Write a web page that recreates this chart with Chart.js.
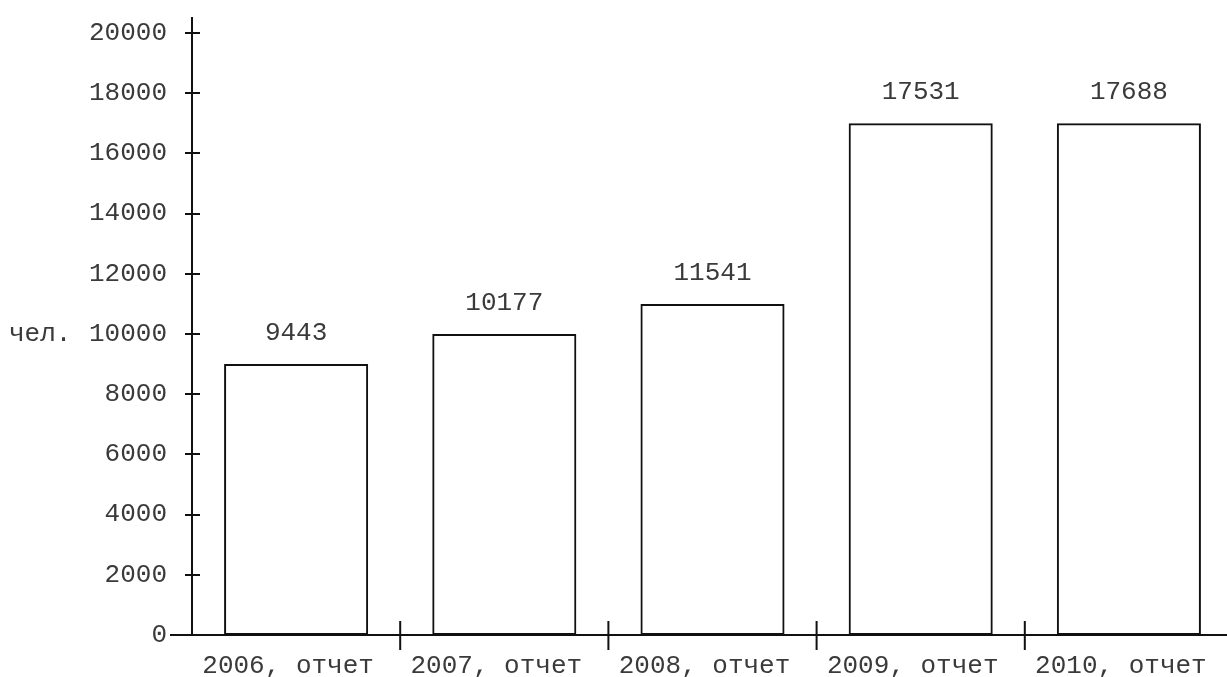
<!DOCTYPE html>
<html>
<head>
<meta charset="utf-8">
<script src="https://cdn.jsdelivr.net/npm/chart.js@4/dist/chart.umd.min.js"></script>
<style>
  html, body { margin: 0; padding: 0; background: #fff; overflow: hidden; }
  #wrap { width: 1240px; height: 677px; }
</style>
</head>
<body>
<div id="wrap"><canvas id="chart"></canvas></div>
<script>
const categories = ['2006, отчет', '2007, отчет', '2008, отчет', '2009, отчет', '2010, отчет'];
// bar heights as drawn in the picture (rounded to thousands)
const barValues = [9000, 10000, 11000, 17000, 17000];
// numbers printed above the bars
const labelValues = [9443, 10177, 11541, 17531, 17688];
const yTicks = [0, 2000, 4000, 6000, 8000, 10000, 12000, 14000, 16000, 18000, 20000];
const unitLabel = 'чел.';

const FONT = '"Liberation Mono", "Courier New", monospace';
const INK = '#111';
const TEXT = '#3a3a3a';

// axis lines, crossed ticks, value labels and unit
const decor = {
  id: 'decor',
  afterDatasetsDraw(chart) {
    const ctx = chart.ctx;
    const x = chart.scales.x, y = chart.scales.y;
    const area = chart.chartArea;
    ctx.save();
    ctx.strokeStyle = INK;
    ctx.lineWidth = 2;
    ctx.beginPath();
    // y axis
    ctx.moveTo(area.left, area.top - 16);
    ctx.lineTo(area.left, area.bottom);
    // x axis
    ctx.moveTo(area.left - 22, area.bottom);
    ctx.lineTo(chart.width, area.bottom);
    // y ticks
    y.ticks.forEach((t, i) => {
      const py = Math.round(y.getPixelForTick(i));
      ctx.moveTo(area.left - 7, py);
      ctx.lineTo(area.left + 8, py);
    });
    // x ticks between categories
    for (let i = 1; i < categories.length; i++) {
      const px = (x.getPixelForTick(i - 1) + x.getPixelForTick(i)) / 2;
      ctx.moveTo(px, area.bottom - 14);
      ctx.lineTo(px, area.bottom + 15);
    }
    ctx.stroke();

    ctx.fillStyle = TEXT;
    ctx.font = '26px ' + FONT;
    ctx.textAlign = 'center';
    ctx.textBaseline = 'middle';
    const meta = chart.getDatasetMeta(0);
    meta.data.forEach((bar, i) => {
      ctx.fillText(String(labelValues[i]), bar.x, bar.y - 31);
    });
    ctx.textAlign = 'left';
    ctx.fillText(unitLabel, 9, y.getPixelForValue(10000));
    ctx.restore();
  }
};

new Chart(document.getElementById('chart'), {
  type: 'bar',
  data: {
    labels: categories,
    datasets: [{
      data: barValues,
      backgroundColor: 'rgba(255,255,255,0)',
      borderColor: INK,
      borderWidth: 2,
      borderSkipped: false,
      categoryPercentage: 1,
      barPercentage: 0.692
    }]
  },
  options: {
    responsive: true,
    maintainAspectRatio: false,
    animation: false,
    layout: { padding: { top: 33, right: 7, left: 0, bottom: 0 } },
    plugins: { legend: { display: false }, tooltip: { enabled: false } },
    scales: {
      x: {
        grid: { display: false, drawTicks: false },
        border: { display: false },
        ticks: {
          color: TEXT,
          font: { family: FONT, size: 26 },
          padding: 16,
          labelOffset: -8,
          maxRotation: 0,
          autoSkip: false
        },
        afterFit(scale) { scale.height = 42; }
      },
      y: {
        min: 0,
        max: 20000,
        afterBuildTicks(scale) { scale.ticks = yTicks.map(v => ({ value: v })); },
        grid: { display: false, drawTicks: false },
        border: { display: false },
        ticks: {
          color: TEXT,
          font: { family: FONT, size: 26 },
          padding: 25,
          callback: v => String(v)
        },
        afterFit(scale) {
          scale.width = 192;
          scale.paddingTop = 0;
          scale.paddingBottom = 0;
        }
      }
    }
  },
  plugins: [decor]
});
</script>
</body>
</html>
